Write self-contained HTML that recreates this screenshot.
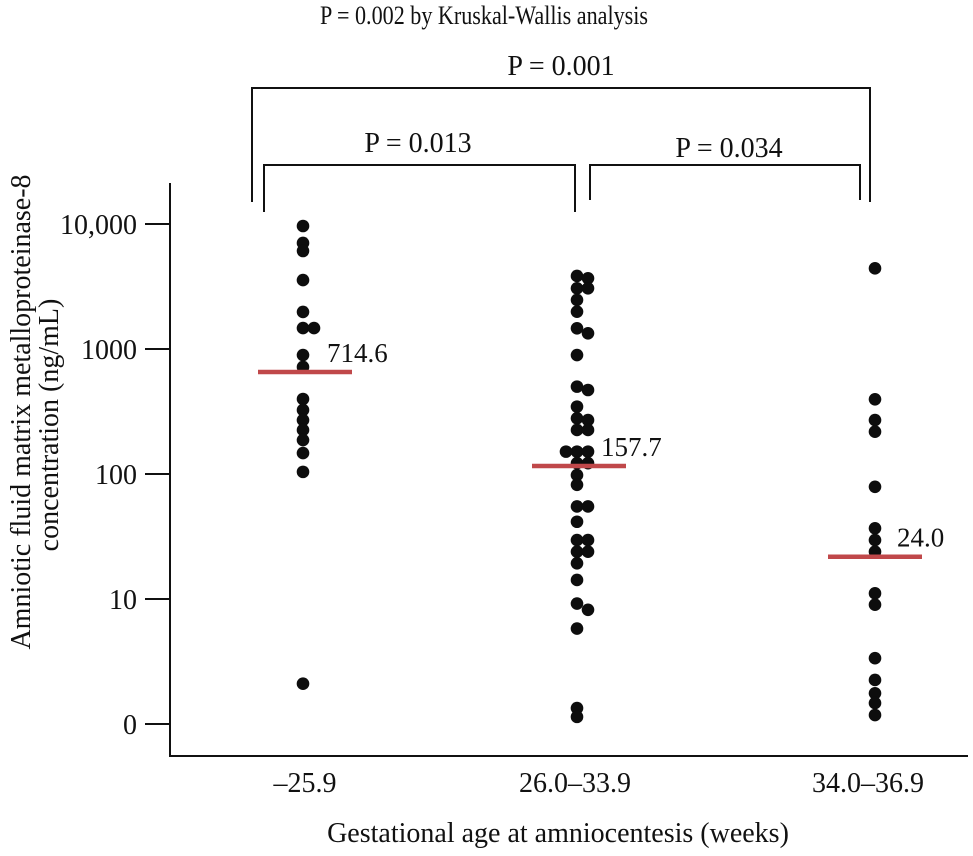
<!DOCTYPE html>
<html><head><meta charset="utf-8"><style>
body{margin:0;background:#fff}
svg text{font-family:"Liberation Serif",serif;fill:#111}
</style></head><body>
<svg id="chart" width="973" height="851" viewBox="0 0 973 851" xmlns="http://www.w3.org/2000/svg">
<g id="axes" stroke="#111" stroke-width="2" fill="none">
 <line x1="170" y1="183" x2="170" y2="756"/>
 <line x1="169" y1="756" x2="968" y2="756"/>
</g>
<g id="brackets" stroke="#111" stroke-width="2" fill="none">
 <path d="M252,202 V88 H870 V202"/>
 <path d="M264,212 V165 H575 V212"/>
 <path d="M590,200 V165 H860 V200"/>
</g>
<text x="320" y="24" font-size="26" textLength="328" lengthAdjust="spacingAndGlyphs">P = 0.002 by Kruskal-Wallis analysis</text>
<text x="561" y="75" font-size="28" text-anchor="middle">P = 0.001</text>
<text x="418" y="152" font-size="28" text-anchor="middle">P = 0.013</text>
<text x="729" y="157" font-size="28" text-anchor="middle">P = 0.034</text>
<text font-size="28" text-anchor="middle" transform="translate(30,412) rotate(-90)">Amniotic fluid matrix metalloproteinase-8</text>
<text font-size="28" text-anchor="middle" transform="translate(58,425) rotate(-90)">concentration (ng/mL)</text>
<text x="558" y="842" font-size="28" text-anchor="middle">Gestational age at amniocentesis (weeks)</text>
<g id="ticks"></g><g id="marks"></g>
</svg>
<script>
const categories = ["\u201325.9", "26.0\u201333.9", "34.0\u201336.9"];
const yTickValues = [1, 10, 100, 1000, 10000];
const yTickLabels = ["0", "10", "100", "1000", "10,000"];
const group1Values = [9640, 7050, 6080, 3560, 1980, 1470, 1470, 895, 718, 398, 325, 270, 225, 187, 147, 104, 2.1];
const group2Values = [3840, 3680, 3060, 3060, 2470, 1990, 1465, 1336, 895, 500, 470, 346, 279, 270, 225, 225, 151, 151, 151, 122, 122, 98, 82, 55, 55, 41.5, 29.6, 29.6, 23.9, 23.9, 19.3, 14.2, 9.2, 8.2, 5.8, 1.34, 1.14];
const group3Values = [4420, 396, 270, 218, 79, 36.8, 29.6, 23.9, 11.1, 9.0, 3.36, 2.25, 1.76, 1.47, 1.18];
const medians = [655, 116, 21.8];
const medianLabels = ["714.6", "157.7", "24.0"];

const NS = "http://www.w3.org/2000/svg";
function yScale(v){ return 724 - 125 * Math.log10(v); }
const catX = [303, 577, 875];
const tickX = [305, 575, 868];
function xScale(i){ return catX[i]; }
function mk(tag, attrs, parent){ const e=document.createElementNS(NS,tag); for(const k in attrs) e.setAttribute(k,attrs[k]); parent.appendChild(e); return e; }
const ticks = document.getElementById('ticks'), marks = document.getElementById('marks');
yTickValues.forEach((v,i)=>{
  const y=yScale(v);
  const l=mk('line',{x1:145,x2:170,y1:y,y2:y,stroke:'#111','stroke-width':2},ticks);
  
  
  const t=mk('text',{x:137,y:y+10,'font-size':28,'text-anchor':'end'},ticks);
  t.textContent=yTickLabels[i];
  
  
});
categories.forEach((c,i)=>{
  const t=mk('text',{x:tickX[i],y:792,'font-size':28,'text-anchor':'middle'},ticks);
  t.textContent=c;
  
  
});
const groups=[group1Values,group2Values,group3Values];
groups.forEach((vals,gi)=>{
  const placed=[];
  const offs=[0,11,-11,22];
  vals.forEach(v=>{
    const y=yScale(v);
    let dx=0;
    for(const o of offs){
      if(!placed.some(p=>Math.abs(p.o-o)<11 && Math.abs(p.y-y)<7)){dx=o;break;}
    }
    placed.push({o:dx,y:y});
    const c=mk('circle',{cx:xScale(gi)+dx,cy:y,r:6.3,fill:'#0d0d0d'},marks);
    
    
  });
  const my=yScale(medians[gi]);
  const cx=xScale(gi)+ (gi===2?0:2);
  const ml=mk('line',{x1:cx-47,x2:cx+47,y1:my,y2:my,stroke:'#c0484a','stroke-width':4.5},marks);
  
  
  const mt=mk('text',{x:cx+22,y:my-10,'font-size':27},marks);
  mt.textContent=medianLabels[gi];
  
  
});
</script>
</body></html>
